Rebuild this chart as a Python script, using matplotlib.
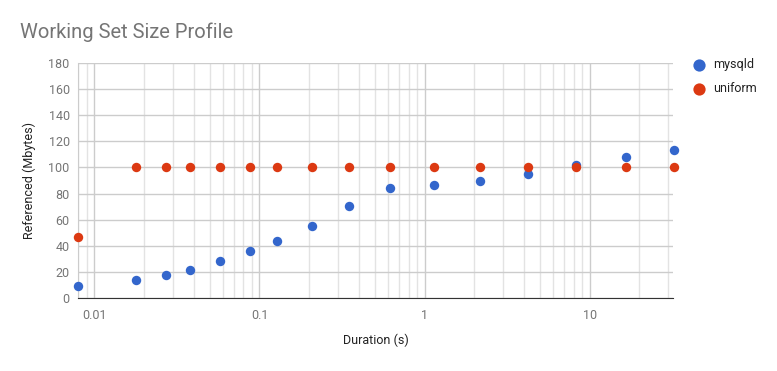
import numpy as np
import matplotlib
matplotlib.use('Agg')
import matplotlib.pyplot as plt
from matplotlib.ticker import LogLocator, FixedLocator, NullFormatter, FuncFormatter

plt.rcParams['font.family'] = ['Roboto', 'DejaVu Sans']

# durations (s) and referenced working set (Mbytes)
duration = [0.008, 0.018, 0.027, 0.038, 0.058, 0.088, 0.128, 0.208, 0.348,
            0.62, 1.145, 2.18, 4.21, 8.3, 16.5, 32.3]
mysqld = [8.9, 14.0, 17.8, 21.7, 28.0, 35.7, 43.6, 55.1, 70.1,
          84.5, 86.5, 89.8, 94.6, 101.5, 108.0, 113.5]
uniform = [46.4, 100, 100, 100, 100, 100, 100, 100, 100,
           100, 100, 100, 100, 100, 100, 100]

series = ['mysqld', 'uniform']
colors = ['#3366cc', '#dc3912']
y_ticks = [0, 20, 40, 60, 80, 100, 120, 140, 160, 180]

fig = plt.figure(figsize=(7.77, 3.71), dpi=100)
ax = fig.add_axes([78 / 777, 1 - 298 / 371, (673 - 78) / 777, (298 - 63) / 371])

for name, vals, c in zip(series, [mysqld, uniform], colors):
    ax.scatter(duration, vals, s=46, color=c, label=name, zorder=3,
               linewidths=0, clip_on=False)

ax.set_xscale('log')
ax.set_xlim(0.00796, 32.0)
ax.set_ylim(0, 180)
ax.set_yticks(y_ticks)

ax.xaxis.set_major_locator(FixedLocator([0.01, 0.1, 1, 10]))
ax.xaxis.set_major_formatter(FuncFormatter(lambda v, p: '{:g}'.format(v)))
ax.xaxis.set_minor_locator(LogLocator(base=10, subs=np.arange(2, 10)))
ax.xaxis.set_minor_formatter(NullFormatter())

ax.grid(True, which='major', color='#cccccc', linewidth=1, zorder=0)
ax.grid(True, which='minor', axis='x', color='#e3e3e3', linewidth=1, zorder=0)
ax.set_axisbelow(True)

for s in ['top', 'right']:
    ax.spines[s].set_visible(False)
ax.spines['left'].set_color('#cccccc')
ax.spines['bottom'].set_color('#333333')

ax.tick_params(which='both', length=0, labelsize=9, labelcolor='#757575')
ax.tick_params(axis='x', pad=8)
ax.tick_params(axis='y', pad=6)

ax.set_xlabel('Duration (s)', fontsize=9, color='#222222', labelpad=8)
ax.set_ylabel('Referenced (Mbytes)', fontsize=9, color='#222222', labelpad=9)

fig.text(20 / 777, 1 - 32 / 371, 'Working Set Size Profile', fontsize=14.5,
         color='#757575', va='center', ha='left')

leg = ax.legend(loc='upper left', bbox_to_anchor=(1.004, 1.07), frameon=False,
                fontsize=9, handletextpad=0.1, labelspacing=0.9, markerscale=1.3)
for t in leg.get_texts():
    t.set_color('#222222')

fig.savefig('out.png', dpi=100)
